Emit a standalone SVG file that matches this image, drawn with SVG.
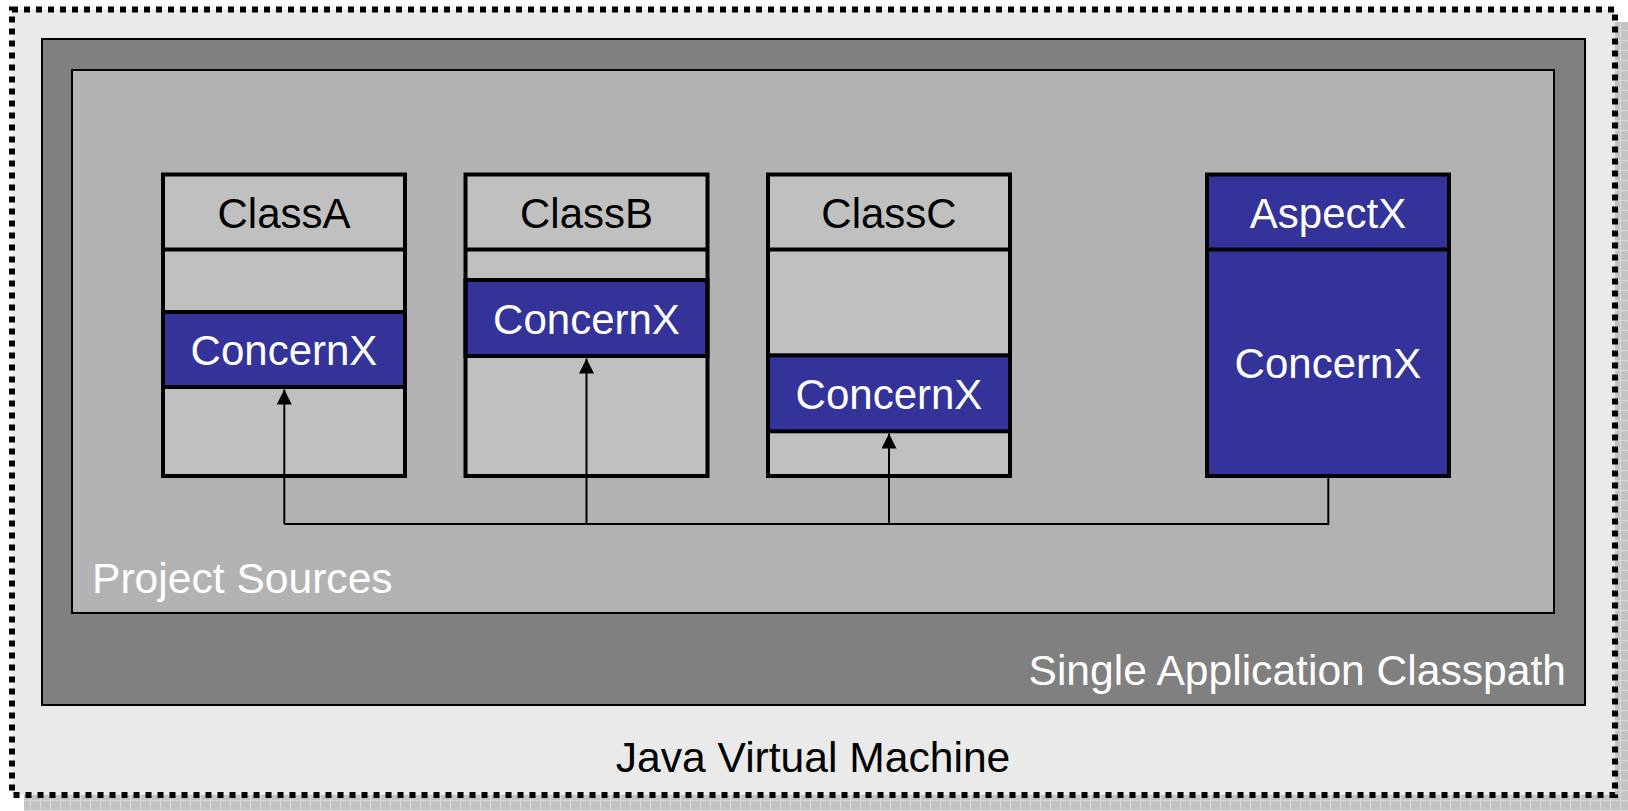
<svg xmlns="http://www.w3.org/2000/svg" width="1628" height="811" viewBox="0 0 1628 811">
<style>
text{font-family:"Liberation Sans",Arial,sans-serif;font-size:42px}
.big{font-size:42.6px}
.w{fill:#fff}.k{fill:#000}
.mid{text-anchor:middle}
.box{fill:#c0c0c0;stroke:none}
.outline{fill:none;stroke:#000;stroke-width:4}
.band{fill:#333399;stroke:#000;stroke-width:4}
.hdr{stroke:#000;stroke-width:4}
.conn{fill:none;stroke:#000;stroke-width:2}
</style>
<defs>
<pattern id="hatch" width="10" height="10" patternUnits="userSpaceOnUse">
<rect width="10" height="10" fill="#c3c3c3"/>
<path d="M0.5 0V10M0 0.5H10" stroke="#dadada" stroke-width="1"/>
</pattern>
<marker id="arr" markerUnits="userSpaceOnUse" markerWidth="15" markerHeight="15" refX="15" refY="7.5" orient="auto">
<path d="M0,0 L15,7.5 L0,15 Z" fill="#000"/>
</marker>
</defs>
<rect width="1628" height="811" fill="#fff"/>
<g id="jvm">
<rect x="24" y="22" width="1620" height="800" fill="url(#hatch)"/>
<rect x="12" y="9.5" width="1603" height="785.5" fill="#eaeaea"/>
<rect x="12" y="9.5" width="1603" height="785.5" fill="none" stroke="#000" stroke-width="6" stroke-dasharray="6 6"/>
<text class="k mid big" x="813" y="772">Java Virtual Machine</text>
</g>
<g id="classpath">
<rect x="42" y="39" width="1543" height="666" fill="#808080" stroke="#000" stroke-width="2"/>
<text class="w big" x="1566" y="685" text-anchor="end">Single Application Classpath</text>
</g>
<g id="sources">
<rect x="72" y="70" width="1482" height="543" fill="#b2b2b2" stroke="#000" stroke-width="2"/>
<text class="w big" x="92" y="593">Project Sources</text>
</g>
<g id="classA">
<rect class="box" x="163" y="174.5" width="242" height="301.5"/>
<rect class="band" x="163" y="312" width="242" height="75"/>
<line class="hdr" x1="163" y1="249.5" x2="405" y2="249.5"/>
<rect class="outline" x="163" y="174.5" width="242" height="301.5"/>
<text class="k mid" x="284" y="228">ClassA</text>
<text class="w mid" x="284" y="364.5">ConcernX</text>
</g>
<g id="classB">
<rect class="box" x="465.5" y="174.5" width="242" height="301.5"/>
<rect class="band" x="465.5" y="280" width="242" height="76"/>
<line class="hdr" x1="465.5" y1="249.5" x2="707.5" y2="249.5"/>
<rect class="outline" x="465.5" y="174.5" width="242" height="301.5"/>
<text class="k mid" x="586.5" y="228">ClassB</text>
<text class="w mid" x="586.5" y="333.5">ConcernX</text>
</g>
<g id="classC">
<rect class="box" x="768" y="174.5" width="242" height="301.5"/>
<rect class="band" x="768" y="355.3" width="242" height="76"/>
<line class="hdr" x1="768" y1="249.5" x2="1010" y2="249.5"/>
<rect class="outline" x="768" y="174.5" width="242" height="301.5"/>
<text class="k mid" x="889" y="228">ClassC</text>
<text class="w mid" x="889" y="408.5">ConcernX</text>
</g>
<g id="aspectX">
<rect x="1207" y="174.5" width="242" height="301.5" fill="#333399"/>
<line class="hdr" x1="1207" y1="249.5" x2="1449" y2="249.5"/>
<rect class="outline" x="1207" y="174.5" width="242" height="301.5"/>
<text class="w mid" x="1328" y="228">AspectX</text>
<text class="w mid" x="1328" y="378">ConcernX</text>
</g>
<g id="connectors">
<path class="conn" d="M1328.3 478 V524 H284.3"/>
<path class="conn" d="M284.3 524 V389.5" marker-end="url(#arr)"/>
<path class="conn" d="M586.5 524 V358.5" marker-end="url(#arr)"/>
<path class="conn" d="M889 524 V433.5" marker-end="url(#arr)"/>
</g>
</svg>
